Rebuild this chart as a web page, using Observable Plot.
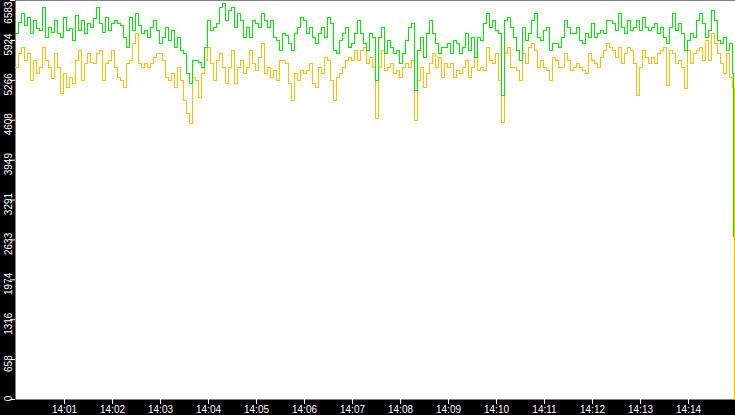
<!DOCTYPE html>
<html><head><meta charset="utf-8">
<script src="https://cdn.jsdelivr.net/npm/d3@7"></script>
<script src="https://cdn.jsdelivr.net/npm/@observablehq/plot@0.6"></script>
<style>
html,body{margin:0;padding:0;background:#000;}
#chart svg{display:block;}
</style>
</head><body><div id="chart"></div>
<script>
// ---- data ----
const startTime = "2024-01-01T14:00:00Z";
const endTime = "2024-01-01T14:15:00Z";
const sampleSeconds = 3.75;
const greenFinalSeconds = 898.0;
const orangeFinalSeconds = 899.0;

const greenValues = [
6038,6220,6368,6170,6302,6038,6253,6121,6088,6467,5972,6138,6055,6253,6038,5972,6302,6088,6121,5923,6335,6088,6253,6038,6204,6138,6286,6467,6204,6055,
6302,6088,6204,6253,6204,6170,5972,5808,6302,6088,6368,6170,6038,6088,5972,6138,6253,6088,5873,5972,6138,5923,6088,5808,5972,5758,5708,5378,5214,5593,
5593,5560,5478,5808,6253,6088,6138,6204,6467,6534,6253,6418,6467,6138,6368,6253,5972,6138,5972,6253,6204,6138,6368,6253,6138,6253,5972,5923,5758,6038,
6005,5873,5758,6038,6138,6302,6253,6038,6138,5972,5873,6038,6138,5972,6302,6204,5758,5708,5923,6038,6138,5808,5873,6038,6253,6038,5873,5758,6038,5972,
5263,5972,6138,5708,5923,5808,5708,5758,5544,5708,5923,6138,6204,5098,5758,5972,5642,6038,6253,6038,5873,5708,5808,5808,5873,5708,5923,5873,5708,5808,
6038,5758,5972,5642,5972,5923,6204,6368,6138,6253,6088,6038,5016,6253,6302,6138,5972,5758,5593,6138,5923,6038,6253,6368,5972,5923,6088,6138,5758,5873,
5873,5808,5972,6253,6138,6038,6038,6138,5923,5873,6038,5972,6204,5972,6038,6088,6038,6253,6253,6204,6088,6368,6138,6038,6253,6088,6138,6253,6088,6302,
6138,6088,6138,6204,6038,6138,5972,5873,6138,6368,6088,6204,6038,5758,5923,6038,5972,6253,6368,6204,5972,6088,6418,6253,5923,5873,5972,5758,5873,5378
];
const greenFinal = 2690;

const orangeValues = [
5478,5708,5808,5593,5708,5263,5593,5378,5478,5808,5593,5478,5296,5708,5478,5048,5378,5148,5312,5214,5593,5758,5263,5544,5708,5560,5544,5708,5758,5263,
5544,5593,5758,5478,5312,5263,5148,5544,5593,5873,6038,5544,5478,5544,5478,5544,5642,5708,5708,5593,5312,5263,5378,5148,5478,5263,4933,4718,4554,5312,
5263,4983,5378,5593,5808,5544,5263,5593,5708,5478,5214,5478,5758,5214,5478,5593,5378,5478,5758,5544,5428,5642,5873,5378,5478,5312,5428,5263,5593,5593,
5544,5214,4933,5378,5263,5428,5378,5428,5544,5214,5148,5478,5378,5642,5593,5263,4933,5312,5378,5478,5593,5642,5593,5758,5593,5758,5808,5544,5642,5478,
4636,5478,5758,5428,5478,5544,5378,5428,5312,5478,5544,5478,5593,4603,5263,5478,5148,5378,5544,5708,5478,5642,5312,5544,5478,5544,5312,5428,5378,5478,
5593,5312,5478,5708,5428,5478,5428,5808,5593,5544,5708,5263,4570,5708,5808,5478,5478,5428,5263,5708,5544,5808,5873,5758,5478,5593,5478,5428,5263,5642,
5593,5478,5478,5708,5593,5428,5478,5544,5478,5428,5378,5708,5593,5544,5478,5642,5758,5873,5808,5758,5642,5808,5544,5708,5808,5758,5544,5016,5478,5758,
5642,5544,5642,5544,5708,5758,5808,5181,5758,5708,5544,5593,5478,5131,5758,5544,5708,5758,5808,5593,5923,5593,6038,5873,5708,5544,5378,5708,5312,5148
];
const orangeFinal = 0;

const yTicks = [0, 658, 1316, 1974, 2633, 3291, 3949, 4608, 5266, 5924, 6583];
const xTickLabels = ["14:01","14:02","14:03","14:04","14:05","14:06","14:07","14:08","14:09","14:10","14:11","14:12","14:13","14:14"];

// ---- build tables ----
const t0 = new Date(startTime).getTime();
function rows(values, finalValue, finalSeconds) {
  const r = values.map((v, i) => ({t: new Date(t0 + i * sampleSeconds * 1000), v}));
  r.push({t: new Date(t0 + finalSeconds * 1000), v: finalValue});
  return r;
}
const greenRows = rows(greenValues, greenFinal, greenFinalSeconds);
const orangeRows = rows(orangeValues, orangeFinal, orangeFinalSeconds);
const xTicks = xTickLabels.map(s => new Date(`2024-01-01T${s}:00Z`));
const fmtX = d3.utcFormat("%H:%M");
const fmtY = d3.format("d");
const midTicks = yTicks.slice(1, -1);

const chart = Plot.plot({
  width: 735,
  height: 415,
  marginLeft: 15,
  marginRight: 0,
  marginTop: 0,
  marginBottom: 16,
  style: {background: "#000", color: "#fff", fontFamily: "'Liberation Sans', Arial, sans-serif", fontSize: "10px"},
  x: {type: "utc", domain: [new Date(startTime), new Date(endTime)]},
  y: {domain: [0, 6583]},
  marks: [
    Plot.frame({fill: "#fff", stroke: null}),
    Plot.line(orangeRows, {x: "t", y: "v", stroke: "#ffc000", strokeWidth: 1, curve: "step-after", shapeRendering: "crispEdges"}),
    Plot.line(greenRows, {x: "t", y: "v", stroke: "#00e800", strokeWidth: 1, curve: "step-after", shapeRendering: "crispEdges"}),
    Plot.axisX({ticks: xTicks, tickFormat: fmtX, tickSize: 5, tickPadding: 1, stroke: "#fff", fill: "#fff", label: null, dx: 1}),
    Plot.axisY({ticks: yTicks, tickFormat: () => "", tickSize: 5, stroke: "#fff", label: null}),
    Plot.axisY({ticks: midTicks, tickFormat: fmtY, tickSize: 0, tickPadding: 4, tickRotate: -90, fill: "#fff", label: null, dy: 4}),
    Plot.axisY({ticks: [0], tickFormat: fmtY, tickSize: 0, tickPadding: 4, tickRotate: -90, fill: "#fff", label: null, dy: -1}),
    Plot.axisY({ticks: [6583], tickFormat: fmtY, tickSize: 0, tickPadding: 4, tickRotate: -90, fill: "#fff", label: null, dy: 12})
  ]
});
document.getElementById("chart").append(chart);
</script>
</body></html>
